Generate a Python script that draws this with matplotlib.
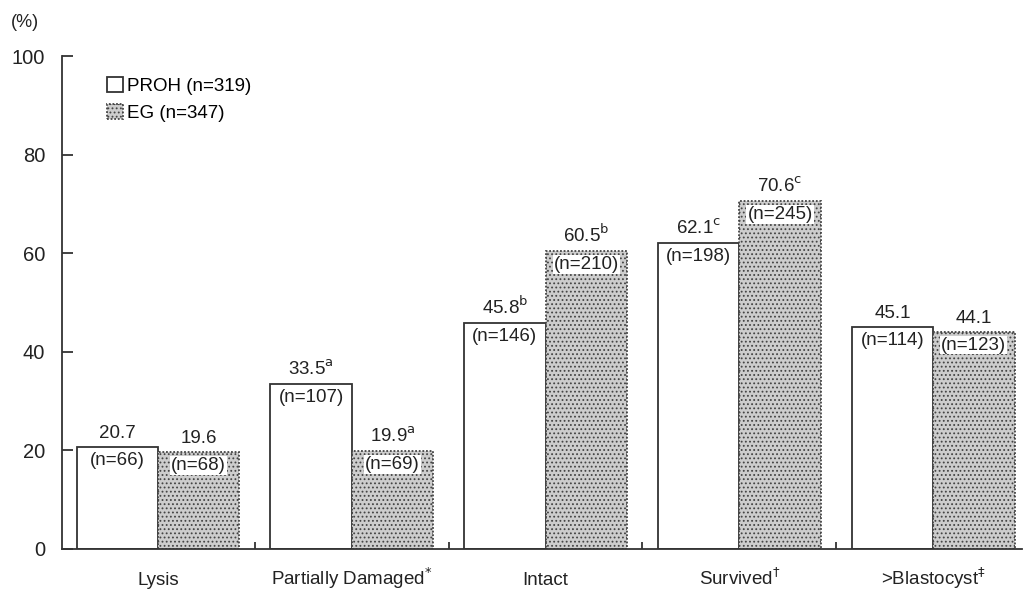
import matplotlib
matplotlib.use("Agg")
import matplotlib.pyplot as plt
import numpy as np

plt.rcParams['font.family'] = ['Liberation Sans', 'DejaVu Sans']
plt.rcParams['hatch.color'] = '#8c8c8c'
plt.rcParams['hatch.linewidth'] = 0.8

categories = ['Lysis', 'Partially Damaged$^{*}$', 'Intact', 'Survived$^{\\dagger}$', '>Blastocyst$^{\\ddagger}$']
proh_vals = [20.7, 33.5, 45.8, 62.1, 45.1]
eg_vals = [19.6, 19.9, 60.5, 70.6, 44.1]
proh_n = [66, 107, 146, 198, 114]
eg_n = [68, 69, 210, 245, 123]
proh_sup = ['', 'a', 'b', 'c', '']
eg_sup = ['', 'a', 'b', 'c', '']
series_labels = ['PROH (n=319)', 'EG (n=347)']

FS = 13.5
TC = '#222222'

fig = plt.figure(figsize=(10.26, 5.96), dpi=100)
ax = fig.add_axes([0.0604, 0.0789, 0.936, 0.827])

x = np.arange(len(categories))
w = 0.42
b1 = ax.bar(x - w/2, proh_vals, w, facecolor='white', edgecolor='#333333', linewidth=1.3, label=series_labels[0])
b2 = ax.bar(x + w/2, eg_vals, w, facecolor='#cdcdcd', edgecolor='#444444', linewidth=1.3,
            linestyle=(0, (1, 1)), hatch='....', label=series_labels[1])

def lab(v, s):
    t = f'{v:.1f}'
    if s:
        t += f'$^{{\\mathrm{{{s}}}}}$'
    return t

for i in range(len(categories)):
    ax.text(x[i] - w/2, proh_vals[i] + 1.0, lab(proh_vals[i], proh_sup[i]), ha='center', va='bottom', fontsize=FS, color=TC)
    ax.text(x[i] + w/2, eg_vals[i] + 1.0, lab(eg_vals[i], eg_sup[i]), ha='center', va='bottom', fontsize=FS, color=TC)
    ax.text(x[i] - w/2, proh_vals[i] - 1.0, f'(n={proh_n[i]})', ha='center', va='top', fontsize=FS, color=TC)
    ax.text(x[i] + w/2, eg_vals[i] - 1.0, f'(n={eg_n[i]})', ha='center', va='top', fontsize=FS, color=TC,
            bbox=dict(boxstyle='square,pad=0.05', facecolor='white', edgecolor='none'))

ax.set_xlim(-0.495, 4.46)
ax.set_ylim(0, 100)
ax.set_yticks([0, 20, 40, 60, 80, 100])
ax.set_xticks(x)
ax.set_xticklabels(categories, fontsize=FS, color=TC)
for t in ax.get_xticklabels():
    t.set_verticalalignment('baseline')
ax.tick_params(axis='x', length=0, pad=26)
ax.set_xticks(x[:-1] + 0.5, minor=True)
ax.tick_params(axis='x', which='minor', direction='in', length=5, width=1.3, color='#333333')
ax.tick_params(axis='y', direction='in', length=8, width=1.3, color='#333333', labelsize=14.5, pad=12, labelcolor=TC)
for s in ['top', 'right']:
    ax.spines[s].set_visible(False)
for s in ['left', 'bottom']:
    ax.spines[s].set_linewidth(1.3)
    ax.spines[s].set_color('#333333')

fig.text(0.011, 0.962, '(%)', fontsize=13, color=TC, va='center')

leg = ax.legend(loc='upper left', bbox_to_anchor=(0.039, 0.972), frameon=False, fontsize=FS,
                handlelength=0.85, handleheight=0.85, handletextpad=0.2, labelspacing=0.45, borderaxespad=0)

fig.savefig('out.png', dpi=100)
